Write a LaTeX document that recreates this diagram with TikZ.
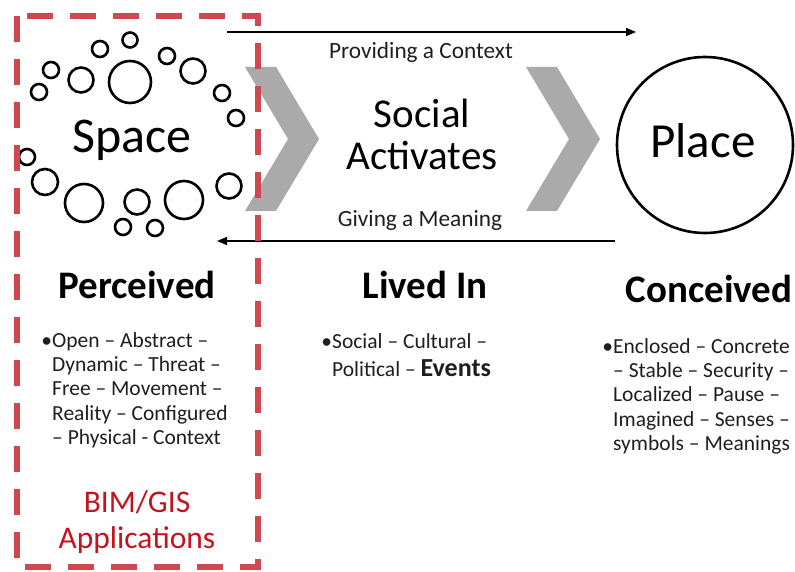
\documentclass[tikz,border=0pt]{standalone}
\usepackage{fontspec}
\setmainfont{Carlito}
\usetikzlibrary{arrows.meta}
\definecolor{chev}{RGB}{170,170,170}
\definecolor{dashred}{RGB}{206,72,78}
\definecolor{bimred}{RGB}{196,18,30}
\definecolor{txt}{RGB}{30,30,30}
\newcommand{\bulletblock}[2]{\parbox[t]{#1}{\raggedright\fontsize{21.5}{24.4}\selectfont\leavevmode\llap{•}#2}}
\begin{document}
\begin{tikzpicture}[x=1pt,y=-1pt,
  ring/.style={draw=black,line width=2.6pt},
  chevron/.style={fill=chev,draw=none},
  flow/.style={draw=black,line width=1.3pt,-{Triangle[length=10pt,width=8pt]}},
  arrowlabel/.style={font=\fontsize{23.3}{27}\selectfont,text=txt,inner sep=0pt,anchor=base},
  bigword/.style={font=\fontsize{50}{58}\selectfont,inner sep=0pt,anchor=base},
  midword/.style={font=\fontsize{41}{48}\selectfont,inner sep=0pt,anchor=base},
  heading/.style={font=\bfseries\fontsize{39}{46}\selectfont,inner sep=0pt,anchor=base},
  bullets/.style={text=txt,inner sep=0pt,anchor=base west},
  bimtext/.style={font=\fontsize{31.5}{38}\selectfont,text=bimred,inner sep=0pt,anchor=base},
  redbox/.style={draw=dashred,line width=5.5pt,dash pattern=on 26pt off 17pt}
]
\useasboundingbox (0,0) rectangle (795,572);

% chevrons
\fill[chevron] (245,67) -- (276,67) -- (319,139) -- (276,211) -- (245,211) -- (288,139) -- cycle;
\fill[chevron] (526,67) -- (557,67) -- (600,139) -- (557,211) -- (526,211) -- (569,139) -- cycle;

% space rings
\foreach \cx/\cy/\r in {130/40/7.5, 100/49/8, 51/70/8, 81/80/12.5, 130/82/21, 167/56/8,
  193/71/12.5, 39/92/8, 222/93/8, 236/118/8, 27/157/8, 45/182/13, 84/203/19,
  137/202/12.5, 184/200/19, 229/186/12.5, 123/227/8, 155/228/8}
  \draw[ring] (\cx,\cy) circle[radius=\r pt];

\node[bigword] (space) at (132,153) {Space};
\node[circle,draw=black,line width=2.6pt,minimum size=176pt,inner sep=0pt] (place) at (705,145) {};
\node[bigword,font=\fontsize{49}{56}\selectfont] (placetext) at (703,158) {Place};

\node[midword] (social) at (422,128) {Social};
\node[midword] (activates) at (422,170) {Activates};

% flows
\coordinate (topstart) at (227,32);
\coordinate (topend) at (636,32);
\coordinate (botstart) at (615,241);
\coordinate (botend) at (217,241);
\draw[flow] (topstart) -- (topend);
\draw[flow] (botstart) -- (botend);
\node[arrowlabel] (provide) at (421,59) {Providing a Context};
\node[arrowlabel] (giving) at (420,226) {Giving a Meaning};

% headings
\node[heading] (perceived) at (137,298) {Perceived};
\node[heading] (lived) at (425,298) {Lived In};
\node[heading] (conceived) at (709,302) {Conceived};

% bullet blocks
\node[bullets] (leftlist) at (52,347) {\bulletblock{210pt}{Open – Abstract –\\Dynamic – Threat –\\Free – Movement –\\Reality – Configured\\– Physical - Context}};
\node[bullets] (midlist) at (332,348) {\bulletblock{210pt}{Social – Cultural –\\[4.5pt]Political – {\bfseries\fontsize{26}{30}\selectfont Events}}};
\node[bullets] (rightlist) at (613,353) {\bulletblock{200pt}{Enclosed – Concrete\\– Stable – Security –\\Localized – Pause –\\Imagined – Senses –\\symbols – Meanings}};

\node[bimtext] (bim) at (137,512) {BIM/GIS};
\node[bimtext] (apps) at (137,548) {Applications};

% red dashed frame
\draw[redbox] (17,16) rectangle (258,567);
\end{tikzpicture}
\end{document}
